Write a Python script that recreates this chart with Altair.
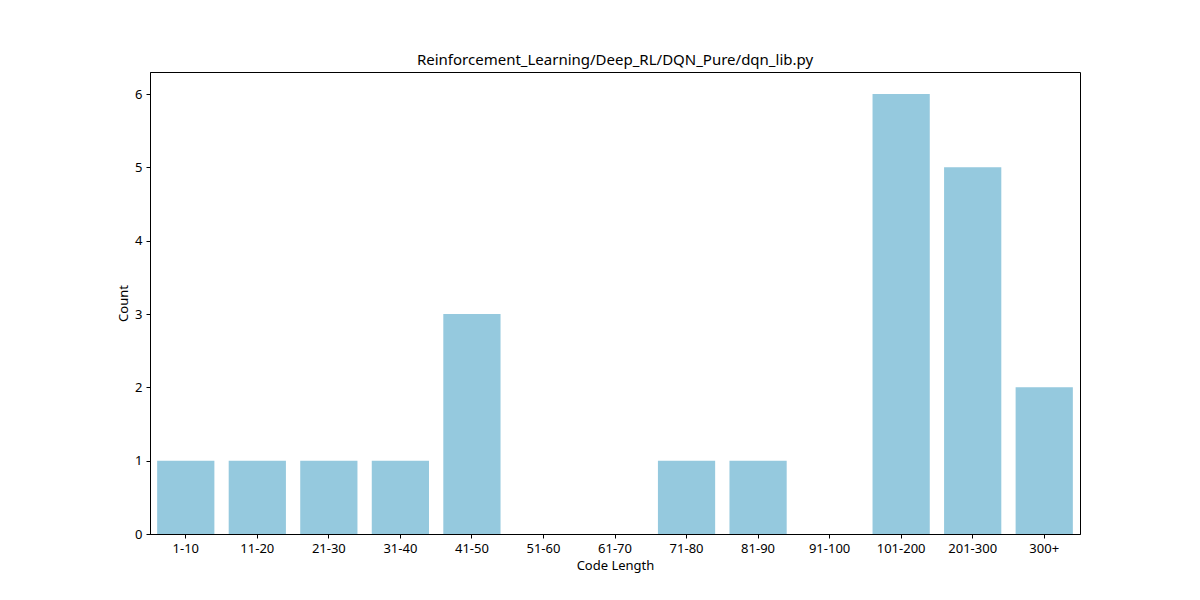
import pandas as pd
import altair as alt

categories = ["1-10", "11-20", "21-30", "31-40", "41-50", "51-60", "61-70",
              "71-80", "81-90", "91-100", "101-200", "201-300", "300+"]
counts = [1, 1, 1, 1, 3, 0, 0, 1, 1, 0, 6, 5, 2]

data = pd.DataFrame({"Code Length": categories, "Count": counts})

font = "Noto Sans"

chart = alt.Chart(data).mark_bar(color="#95c9de").encode(
    x=alt.X("Code Length:N", sort=categories,
            scale=alt.Scale(paddingInner=0.2, paddingOuter=0.1),
            axis=alt.Axis(labelAngle=0, tickColor="black", domainColor="black",
                          labelColor="black", titleColor="black", tickSize=4,
                          labelFontSize=13, titleFontSize=13, titleFontWeight="normal",
                          labelFont=font, titleFont=font, labelPadding=4)),
    y=alt.Y("Count:Q", scale=alt.Scale(domain=[0, 6.3], nice=False),
            axis=alt.Axis(values=[0, 1, 2, 3, 4, 5, 6], grid=False, tickColor="black",
                          domainColor="black", labelColor="black", titleColor="black",
                          tickSize=4, labelFontSize=13, titleFontSize=13,
                          titleFontWeight="normal", labelFont=font, titleFont=font,
                          labelPadding=4)),
).properties(
    width=930, height=462,
    title=alt.Title("Reinforcement_Learning/Deep_RL/DQN_Pure/dqn_lib.py",
                    fontSize=15, fontWeight="normal", font=font, color="black"),
    padding={"left": 142, "top": 64, "right": 10, "bottom": 60},
    autosize=alt.AutoSizeParams(type="none"),
).configure_view(stroke="black", strokeWidth=1)

chart.save("out.html", embed_options={"renderer": "svg", "actions": False})
